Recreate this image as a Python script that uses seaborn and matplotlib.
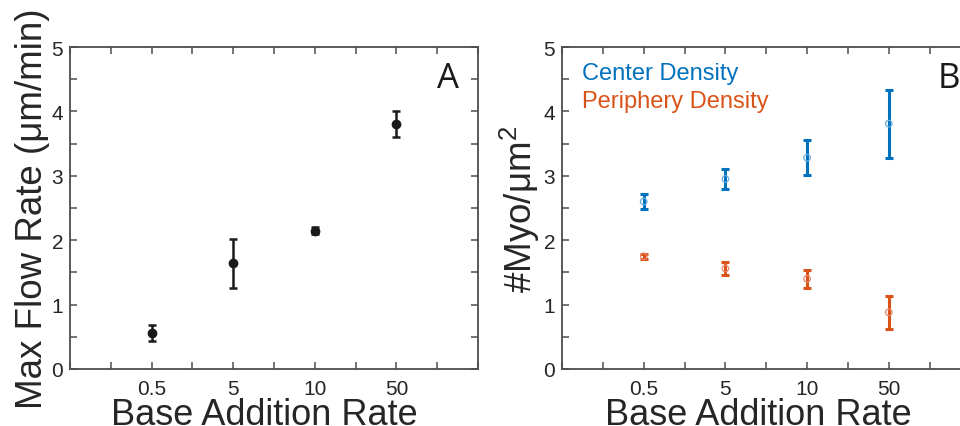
import numpy as np
import matplotlib
matplotlib.use("Agg")
import matplotlib.pyplot as plt
import seaborn as sns

# values
rates = ["0.5", "5", "10", "50"]
flow_mean = [0.56, 1.64, 2.15, 3.81]
flow_err = [0.13, 0.38, 0.05, 0.20]
center_mean = [2.60, 2.95, 3.28, 3.81]
center_err = [0.12, 0.15, 0.27, 0.53]
periph_mean = [1.75, 1.56, 1.40, 0.88]
periph_err = [0.04, 0.10, 0.14, 0.26]

sns.set_theme(style="ticks")
plt.rcParams['font.family'] = ['Liberation Sans', 'DejaVu Sans']
plt.rcParams['mathtext.fontset'] = 'custom'
plt.rcParams['mathtext.rm'] = 'Liberation Sans'
plt.rcParams['mathtext.it'] = 'Liberation Sans:italic'

BLUE = '#0072BD'
ORANGE = '#D95319'
SPINE = '#4d4d4d'
TXT = '#262626'

pos = np.arange(1, len(rates) + 1)


def style_axes(ax):
    ax.set_xlim(0, 5)
    ax.set_ylim(0, 5)
    ax.set_xticks(pos)
    ax.set_xticklabels(rates)
    ax.set_xticks(np.arange(0, 5.01, 0.5), minor=True)
    ax.set_yticks(np.arange(0, 6, 1))
    ax.set_yticks(np.arange(0, 5.01, 0.5), minor=True)
    for side in ['top', 'right', 'left', 'bottom']:
        ax.spines[side].set_visible(True)
        ax.spines[side].set_color(SPINE)
        ax.spines[side].set_linewidth(1.3)
    ax.tick_params(which='both', direction='in', length=5, width=1.1,
                   color=SPINE, top=True, right=True, labelsize=15,
                   labelcolor=TXT)
    ax.tick_params(axis='x', which='major', pad=7)
    ax.tick_params(axis='y', which='major', pad=5)
    ax.grid(False)


fig = plt.figure(figsize=(9.6, 4.27), dpi=100)
ax1 = fig.add_axes([70 / 960, 1 - 370 / 427, 408 / 960, 322 / 427])
ax2 = fig.add_axes([562 / 960, 1 - 370 / 427, 408.5 / 960, 322 / 427])

# panel A
ax1.errorbar(pos, flow_mean, yerr=flow_err, fmt='none', ecolor='#1a1a1a',
             elinewidth=1.8, capsize=3, capthick=1.8, zorder=2)
sns.scatterplot(x=pos, y=flow_mean, ax=ax1, color='#1a1a1a', s=36,
                edgecolor='#1a1a1a', linewidth=1, zorder=3)
style_axes(ax1)
ax1.set_xlabel("Base Addition Rate", fontsize=26, color=TXT, va='baseline')
ax1.set_ylabel("Max Flow Rate (\u03bcm/min)", fontsize=26.5, color=TXT,
               va='baseline')
ax1.xaxis.set_label_coords(0.476, -0.171)
ax1.yaxis.set_label_coords(-0.069, 0.5)
ax1.text(0.926, 0.876, "A", transform=ax1.transAxes, fontsize=25,
         ha='center', va='baseline', color='#1a1a1a', family='Open Sans')

# panel B
ax2.errorbar(pos, center_mean, yerr=center_err, fmt='none', ecolor=BLUE,
             elinewidth=2.2, capsize=3, capthick=2.2, zorder=2)
ax2.errorbar(pos, periph_mean, yerr=periph_err, fmt='none', ecolor=ORANGE,
             elinewidth=2.2, capsize=3, capthick=2.2, zorder=2)
sns.scatterplot(x=pos, y=center_mean, ax=ax2, facecolor='none',
                edgecolor='#6aaee0', s=22, linewidth=0.9, zorder=3)
sns.scatterplot(x=pos, y=periph_mean, ax=ax2, facecolor='none',
                edgecolor='#e8876a', s=22, linewidth=0.9, zorder=3)
style_axes(ax2)
ax2.set_xlabel("Base Addition Rate", fontsize=26, color=TXT, va='baseline')
ax2.set_ylabel("#Myo/\u03bcm$^2$", fontsize=26.5, color=TXT, va='baseline')
ax2.xaxis.set_label_coords(0.48, -0.171)
ax2.yaxis.set_label_coords(-0.073, 0.5)
ax2.text(0.049, 0.90, "Center Density", transform=ax2.transAxes,
         fontsize=17, color=BLUE, va='baseline')
ax2.text(0.049, 0.814, "Periphery Density", transform=ax2.transAxes,
         fontsize=17, color=ORANGE, va='baseline')
ax2.text(0.92, 0.876, "B", transform=ax2.transAxes, fontsize=25,
         ha='left', va='baseline', color='#1a1a1a', family='Open Sans')

fig.savefig("out.png", dpi=100)
